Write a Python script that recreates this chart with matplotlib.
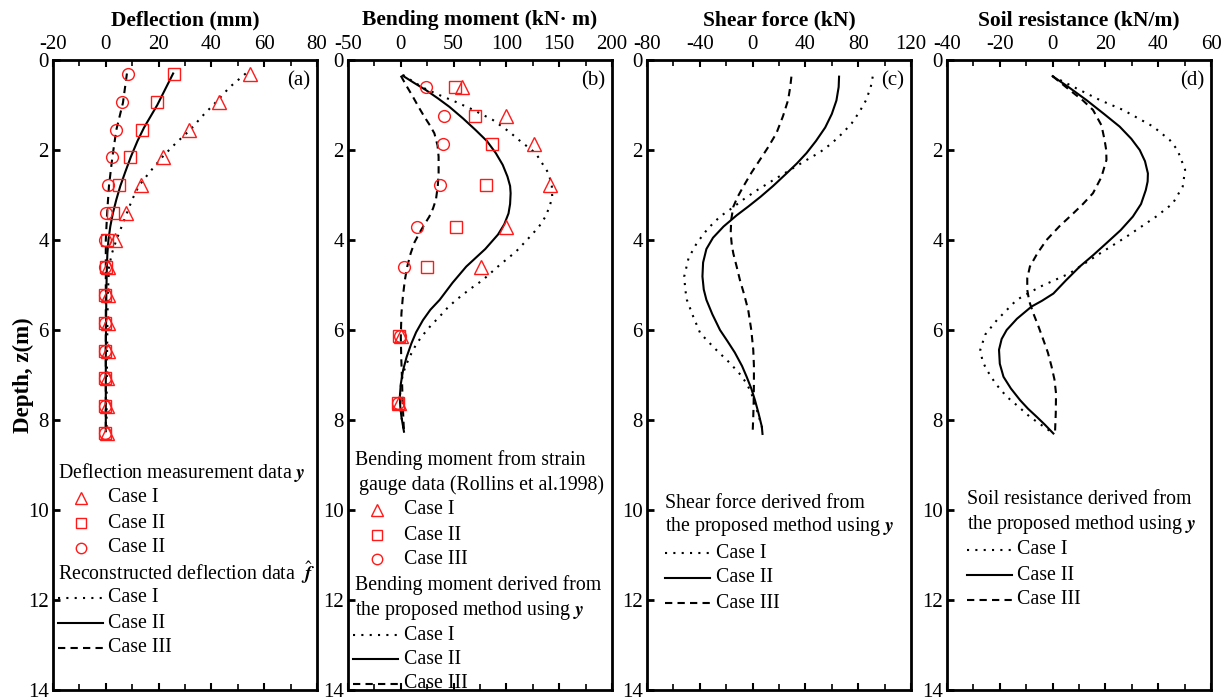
import numpy as np
import matplotlib
matplotlib.use("Agg")
import matplotlib.pyplot as plt
from matplotlib.lines import Line2D
from matplotlib.ticker import MultipleLocator

plt.rcParams['font.family'] = ['Liberation Serif', 'DejaVu Serif']
plt.rcParams['mathtext.fontset'] = 'stix'
plt.rcParams['axes.unicode_minus'] = False

# ---------------- data ----------------
# (a) deflection, mm
z_defl = [0.3, 0.93, 1.55, 2.16, 2.78, 3.39, 4.0, 4.6, 5.23, 5.85, 6.46, 7.07, 7.68, 8.29]
defl_I = [54.7, 42.7, 31.6, 21.8, 13.5, 7.8, 3.4, 1.0, 1.0, 0.9, 0.8, 0.6, 0.5, 0.5]
defl_II = [25.8, 19.5, 13.9, 9.1, 5.1, 2.8, 0.3, 0.0, -0.2, -0.2, -0.2, -0.2, -0.3, -0.3]
defl_III = [8.5, 6.3, 3.8, 2.5, 0.9, 0.0, -0.4, -0.3, -0.3, -0.3, -0.3, -0.3, -0.3, -0.3]

zf_I = [0.3, 0.6, 0.95, 1.25, 1.55, 1.85, 2.15, 2.5, 2.8, 3.1, 3.4, 3.7, 4.0, 4.3,
        4.6, 5.2, 5.85, 6.45, 7.05, 7.65, 8.25]
fit_I = [53.0, 47.0, 41.5, 36.5, 32.0, 26.5, 21.5, 16.5, 12.5, 10.0, 8.0, 6.0, 4.0,
         2.3, 1.2, 0.8, 0.6, 0.5, 0.4, 0.3, 0.3]
zf_II = [0.3, 0.65, 1.0, 1.25, 1.5, 1.8, 2.15, 2.5, 2.8, 3.1, 3.4, 3.7, 4.0, 4.3,
         4.6, 5.2, 5.85, 6.45, 7.05, 7.65, 8.25]
fit_II = [25.5, 22.5, 19.5, 17.0, 14.5, 12.0, 9.5, 7.3, 5.5, 4.0, 2.7, 1.7, 1.0, 0.6,
          0.4, 0.2, 0.1, 0.0, 0.0, 0.0, 0.0]
zf_III = [0.3, 0.95, 1.55, 2.15, 2.8, 3.4, 4.0, 4.6, 5.2, 5.85, 6.45, 7.05, 7.65, 8.25]
fit_III = [8.0, 6.5, 4.0, 2.5, 1.2, 0.5, 0.0, 0.0, 0.0, 0.0, 0.0, 0.0, 0.0, 0.0]

# (b) bending moment, kN m
z_bm = [0.6, 1.24, 1.86, 2.77, 3.7, 4.6, 6.13, 7.63]
bm_I = [57.9, 99.4, 126.4, 140.9, 100.0, 76.1, 0.6, -1.6]
bm_II = [51.0, 70.0, 86.0, 80.5, 52.2, 25.2, -1.6, -3.1]
bm_III = [23.9, 40.6, 39.6, 37.1, 15.1, 3.1, -0.9, -2.4]

zm_I = [0.33, 0.5, 0.65, 0.81, 0.93, 1.1, 1.33, 1.6, 1.78, 2.07, 2.3, 2.52, 2.8, 3.04,
        3.25, 3.48, 3.68, 3.87, 4.06, 4.26, 4.56, 4.89, 5.1, 5.33, 5.5, 5.7, 5.9, 6.11,
        6.3, 6.52, 6.75, 6.96, 7.2, 7.48, 7.7, 7.93, 8.26]
m_I = [2.0, 13.0, 24.0, 39.6, 52.0, 67.9, 87.0, 103.0, 112.0, 127.7, 134.0, 140.0,
       143.0, 143.4, 141.0, 137.0, 131.5, 124.6, 117.0, 109.0, 93.4, 77.6, 65.0, 52.5,
       44.5, 36.8, 28.5, 21.0, 15.0, 10.0, 5.5, 2.2, 0.2, -0.9, -0.5, 0.6, 3.0]
zm_II = [0.35, 0.5, 0.67, 0.85, 1.04, 1.3, 1.56, 1.8, 2.07, 2.33, 2.59, 2.8, 2.96, 3.2,
         3.41, 3.65, 3.88, 4.2, 4.59, 4.95, 5.33, 5.55, 5.78, 6.05, 6.3, 6.6, 6.89, 7.2,
         7.48, 7.7, 7.93, 8.26]
m_II = [1.9, 12.0, 23.9, 35.0, 46.0, 59.0, 71.0, 81.5, 90.0, 96.5, 101.0, 103.5,
        104.0, 103.5, 102.0, 98.0, 92.0, 80.0, 62.0, 49.0, 36.8, 28.0, 21.0, 14.5, 10.0,
        5.5, 2.2, 0.0, -0.9, -0.5, 0.6, 3.0]
zm_III = [0.35, 0.58, 0.81, 1.05, 1.26, 1.45, 1.63, 1.9, 2.15, 2.52, 2.8, 3.1, 3.3,
          3.48, 3.65, 3.85, 4.05, 4.3, 4.6, 4.9, 5.25, 5.63, 6.15, 6.6, 7.0, 7.5, 7.9, 8.26]
m_III = [0.0, 5.5, 11.3, 17.0, 22.3, 27.5, 31.8, 34.8, 35.8, 35.8, 35.0, 33.3, 30.5,
         27.0, 22.5, 17.5, 13.0, 9.3, 6.0, 3.8, 2.0, 0.6, 0.0, 0.4, 1.0, 1.6, 2.3, 3.0]

# (c) shear force, kN
zs_I = [0.37, 0.6, 0.89, 1.15, 1.41, 1.63, 1.85, 2.05, 2.22, 2.45, 2.67, 2.9, 3.1, 3.3,
        3.48, 3.75, 4.07, 4.4, 4.81, 5.1, 5.33, 5.7, 6.07, 6.4, 6.74, 7.0, 7.19, 7.4,
        7.56, 7.85, 8.15, 8.31]
s_I = [91.0, 89.5, 86.0, 81.0, 75.0, 68.0, 60.0, 51.0, 41.0, 28.0, 15.6, 3.0, -7.0,
       -16.0, -24.7, -34.0, -42.3, -48.5, -51.8, -51.0, -49.8, -45.0, -39.7, -29.0,
       -17.0, -9.0, -4.5, -1.0, 0.8, 4.0, 7.0, 7.5]
zs_II = [0.37, 0.6, 0.9, 1.2, 1.5, 1.8, 2.07, 2.3, 2.52, 2.8, 3.04, 3.25, 3.45, 3.7,
         3.95, 4.2, 4.5, 4.81, 5.1, 5.33, 5.65, 6.0, 6.25, 6.5, 6.8, 7.04, 7.3, 7.56,
         7.85, 8.15, 8.31]
s_II = [65.5, 65.2, 63.5, 60.0, 55.0, 48.0, 40.8, 33.5, 25.7, 15.5, 6.0, -3.0, -12.0,
        -22.0, -30.0, -35.0, -37.5, -38.0, -37.0, -35.0, -30.5, -24.7, -19.0, -13.5,
        -8.0, -4.5, -1.0, 1.8, 4.5, 7.0, 7.5]
zs_III = [0.37, 0.6, 0.89, 1.25, 1.63, 1.95, 2.22, 2.5, 2.81, 3.05, 3.26, 3.55, 3.85,
          4.1, 4.3, 4.6, 4.89, 5.2, 5.56, 6.0, 6.44, 6.8, 7.19, 7.6, 7.93, 8.31]
s_III = [29.4, 28.5, 26.9, 23.0, 18.0, 11.5, 5.5, -0.8, -7.0, -11.5, -14.6, -16.2,
         -16.6, -15.8, -14.6, -12.0, -9.6, -6.5, -3.3, -1.0, 0.5, 1.0, 1.0, 0.8, 0.5, 0.0]

# (d) soil resistance, kN/m
zp_I = [0.36, 0.6, 0.89, 1.11, 1.48, 1.78, 2.0, 2.44, 2.81, 3.19, 3.48, 3.93, 4.3,
        4.74, 5.04, 5.33, 5.78, 6.1, 6.44, 6.7, 6.89, 7.2, 7.48, 7.7, 7.93, 8.1, 8.3]
p_I = [0.0, 8.0, 17.9, 26.7, 38.1, 44.4, 47.3, 50.2, 49.3, 45.5, 39.2, 27.9, 17.9,
       6.5, -4.8, -13.6, -21.1, -25.5, -27.4, -26.5, -24.9, -21.5, -17.4, -13.0, -8.6,
       -4.5, 0.3]
zp_II = [0.36, 0.6, 0.89, 1.2, 1.48, 1.75, 2.0, 2.25, 2.52, 2.7, 2.89, 3.2, 3.48, 3.78,
         4.07, 4.33, 4.59, 4.9, 5.19, 5.35, 5.48, 5.75, 6.0, 6.2, 6.44, 6.75, 7.04, 7.3,
         7.56, 7.75, 7.93, 8.1, 8.3]
p_II = [0.0, 6.0, 12.8, 19.5, 25.4, 29.8, 33.0, 35.0, 36.1, 36.0, 35.3, 33.5, 30.4,
        25.8, 20.4, 15.5, 10.3, 5.0, 0.3, -4.0, -8.0, -13.5, -17.4, -19.3, -20.3, -20.0,
        -18.6, -15.8, -12.3, -9.3, -6.0, -3.0, 0.3]
zp_III = [0.36, 0.67, 0.9, 1.11, 1.45, 1.78, 2.0, 2.22, 2.6, 2.96, 3.2, 3.41, 3.7, 4.0,
          4.3, 4.59, 4.85, 5.11, 5.37, 5.63, 5.93, 6.22, 6.5, 6.81, 7.1, 7.41, 7.85, 8.3]
p_III = [0.0, 6.5, 11.5, 15.3, 18.5, 19.7, 20.3, 20.4, 18.5, 15.3, 11.5, 7.8, 2.5,
         -2.3, -5.8, -8.6, -9.6, -9.6, -8.8, -7.3, -5.3, -3.5, -1.8, -0.4, 0.7, 1.3,
         1.2, 0.9]

titles = ['Deflection (mm)', 'Bending moment (kN\u00b7 m)', 'Shear force (kN)',
          'Soil resistance (kN/m)']
xlims = [(-20, 80), (-50, 200), (-80, 120), (-40, 60)]
xmajor = [20, 50, 40, 20]
tags = ['(a)', '(b)', '(c)', '(d)']

# ---------------- layout ----------------
W, H = 1231, 700
fig = plt.figure(figsize=(W / 100, H / 100), dpi=100)
lefts = [53, 348, 647, 947]
ax_w = 264
top, bot = 60, 690

dot = (0, (1, 3))
dash = (0, (3.5, 2.5))
red = '#ff1a1a'
fs = 15
lfs = 14.3


def fx(px):
    return px / W


def fy(py):
    return 1 - py / H


axes = []
for i in range(4):
    ax = fig.add_axes([fx(lefts[i]), fy(bot), ax_w / W, (bot - top) / H])
    ax.set_xlim(*xlims[i])
    ax.set_ylim(14, 0)
    ax.xaxis.set_major_locator(MultipleLocator(xmajor[i]))
    ax.xaxis.set_minor_locator(MultipleLocator(xmajor[i] / 2))
    ax.yaxis.set_major_locator(MultipleLocator(2))
    ax.tick_params(axis='x', which='both', direction='in', top=True, bottom=True,
                   labeltop=True, labelbottom=False, labelsize=fs, pad=4)
    ax.tick_params(axis='x', which='major', length=5, width=1.5)
    ax.tick_params(axis='x', which='minor', length=4, width=1.2)
    ax.tick_params(axis='y', which='major', direction='in', left=True, right=False,
                   length=5, width=2, labelsize=fs, pad=3)
    for s in ax.spines.values():
        s.set_linewidth(2)
    # title placed at a fixed height above the tick labels
    fig.text(fx(lefts[i] + ax_w / 2), fy(20), titles[i], fontsize=15.5,
             fontweight='bold', ha='center', va='center')
    ax.text(0.93, 0.967, tags[i], transform=ax.transAxes, ha='center', va='center',
            fontsize=fs)
    axes.append(ax)

axes[0].set_ylabel('Depth, z(m)', fontsize=16.5, fontweight='bold', labelpad=-4)

# (a)
ax = axes[0]
ax.plot(fit_I, zf_I, color='k', lw=1.5, ls=dot)
ax.plot(fit_II, zf_II, color='k', lw=1.5)
ax.plot(fit_III, zf_III, color='k', lw=1.5, ls=dash)
ax.plot(defl_I, z_defl, ls='none', marker='^', ms=10, mfc='none', mec=red, mew=1)
ax.plot(defl_II, z_defl, ls='none', marker='s', ms=8, mfc='none', mec=red, mew=1)
ax.plot(defl_III, z_defl, ls='none', marker='o', ms=8.5, mfc='none', mec=red, mew=1)

# (b)
ax = axes[1]
ax.plot(m_I, zm_I, color='k', lw=1.5, ls=dot)
ax.plot(m_II, zm_II, color='k', lw=1.5)
ax.plot(m_III, zm_III, color='k', lw=1.5, ls=dash)
ax.plot(bm_I, z_bm, ls='none', marker='^', ms=10, mfc='none', mec=red, mew=1)
ax.plot(bm_II, z_bm, ls='none', marker='s', ms=8, mfc='none', mec=red, mew=1)
ax.plot(bm_III, z_bm, ls='none', marker='o', ms=8.5, mfc='none', mec=red, mew=1)

# (c)
ax = axes[2]
ax.plot(s_I, zs_I, color='k', lw=1.5, ls=dot)
ax.plot(s_II, zs_II, color='k', lw=1.5)
ax.plot(s_III, zs_III, color='k', lw=1.5, ls=dash)

# (d)
ax = axes[3]
ax.plot(p_I, zp_I, color='k', lw=1.5, ls=dot)
ax.plot(p_II, zp_II, color='k', lw=1.5)
ax.plot(p_III, zp_III, color='k', lw=1.5, ls=dash)


# ---------------- legends (drawn by hand, figure pixels) ----------------
def head(x, y, s):
    fig.text(fx(x), fy(y), s, fontsize=lfs, ha='left', va='center')


def mark_row(xm, xt, y, m, ms, label):
    fig.add_artist(Line2D([fx(xm)], [fy(y)], transform=fig.transFigure, ls='none',
                          marker=m, ms=ms, mfc='none', mec=red, mew=1))
    fig.text(fx(xt), fy(y), label, fontsize=lfs, ha='left', va='center')


def line_row(x0, x1, xt, y, ls, label):
    fig.add_artist(Line2D([fx(x0), fx(x1)], [fy(y), fy(y)], transform=fig.transFigure,
                          color='k', lw=1.5, ls=ls))
    fig.text(fx(xt), fy(y), label, fontsize=lfs, ha='left', va='center')


Y = r'$\mathbfit{y}$'
head(58, 473, 'Deflection measurement data ' + Y)
mark_row(81, 108, 498, '^', 9, 'Case I')
mark_row(81, 108, 523, 's', 7, 'Case II')
mark_row(81, 108, 548, 'o', 7.5, 'Case II')
head(58, 573, r'Reconstructed deflection data  $\hat{\mathbfit{f}}$')
line_row(58, 103, 108, 598, dot, 'Case I')
line_row(58, 103, 108, 623, '-', 'Case II')
line_row(58, 103, 108, 648, dash, 'Case III')

head(355, 460, 'Bending moment from strain')
head(359, 485, 'gauge data (Rollins et al.1998)')
mark_row(377, 404, 510, '^', 9, 'Case I')
mark_row(377, 404, 535, 's', 7, 'Case II')
mark_row(377, 404, 559, 'o', 7.5, 'Case III')
head(355, 585, 'Bending moment derived from')
head(355, 610, 'the proposed method using ' + Y)
line_row(353, 398, 404, 635, dot, 'Case I')
line_row(353, 398, 404, 659, '-', 'Case II')
line_row(353, 398, 404, 684, dash, 'Case III')

head(665, 503, 'Shear force derived from')
head(665, 527, 'the proposed method using ' + Y)
line_row(665, 710, 716, 553, dot, 'Case I')
line_row(665, 710, 716, 578, '-', 'Case II')
line_row(665, 710, 716, 603, dash, 'Case III')

head(967, 500, 'Soil resistance derived from')
head(967, 525, 'the proposed method using ' + Y)
line_row(967, 1012, 1017, 550, dot, 'Case I')
line_row(967, 1012, 1017, 575, '-', 'Case II')
line_row(967, 1012, 1017, 600, dash, 'Case III')

fig.savefig('out.png', dpi=100)
